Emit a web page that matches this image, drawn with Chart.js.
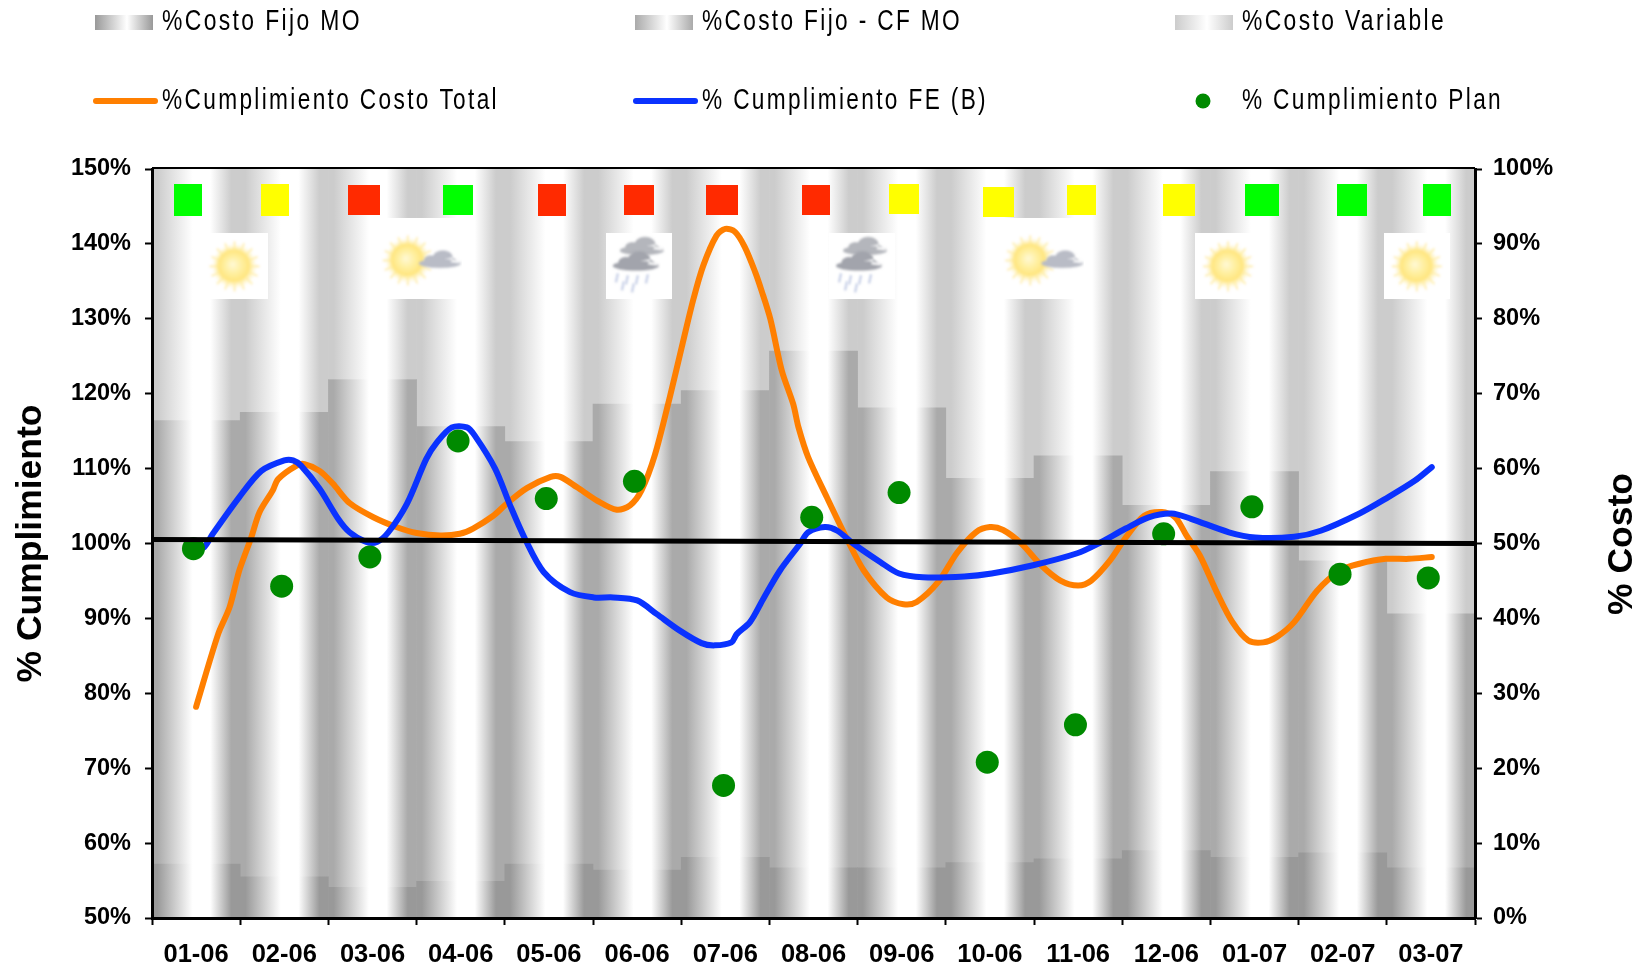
<!DOCTYPE html>
<html>
<head>
<meta charset="utf-8">
<script src="https://cdn.jsdelivr.net/npm/chart.js@4"></script>
<style>
  html, body { margin: 0; padding: 0; background: #fff; }
</style>
</head>
<body>
<canvas id="myChart" width="1648" height="972" style="display:block"></canvas>
<script>
const months = ['01-06','02-06','03-06','04-06','05-06','06-06','07-06','08-06','09-06','10-06','11-06','12-06','01-07','02-07','03-07'];

// stacked cost shares, % Costo
const costoFijoMO = [7.2,5.5,4.1,4.9,7.2,6.4,8.1,6.7,6.7,7.4,7.9,9.0,8.1,8.7,6.7];
const costoFijoCF = [59.2,62.0,67.8,60.7,56.4,62.2,62.3,69.0,61.4,51.3,53.8,46.1,51.5,39.0,33.9];
const costoVariable = [33.6,32.5,28.1,34.4,36.4,31.4,29.6,24.3,31.9,41.3,38.3,44.9,40.4,52.3,59.4];

// curves, x in months (0 = 01-06)
const costoX = [0,.25,.38,.49,.625,.72,.87,.93,1.14,1.23,1.4,1.55,1.74,2.01,2.27,2.5,2.77,2.99,3.14,3.37,3.52,3.75,4.02,4.13,4.32,4.55,4.77,4.92,5.05,5.2,5.37,5.52,5.64,5.75,5.9,6,6.11,6.22,6.34,6.41,6.51,6.64,6.77,6.83,6.94,7.15,7.38,7.57,7.83,8.02,8.17,8.41,8.63,8.84,9,9.15,9.36,9.58,9.8,10,10.15,10.36,10.54,10.75,10.95,11.1,11.23,11.38,11.58,11.75,11.93,12.1,12.25,12.45,12.71,12.97,13.19,13.49,13.75,14.01];
const cumplCosto = [78.2,87.9,91.5,96.4,100.8,104.2,107.1,108.6,110.4,110.6,109.7,108,105.4,103.5,102.2,101.4,101.07,101.3,102,103.7,105.3,107.4,108.9,108.9,107.5,105.7,104.5,105.1,107.1,111.75,119.5,126.9,132.7,137.1,141.1,142,141.6,139.6,136.2,133.8,130,123.1,118.6,115.5,111.5,106.2,100.6,96.4,92.8,91.9,92.2,94.8,98.8,101.5,102.2,101.8,99.95,97.1,95.05,94.4,95.05,97.7,100.8,103.7,104.2,103.5,101.05,98.4,93.3,89.5,87.05,86.8,87.5,89.5,93.7,96.4,97.3,97.95,97.95,98.2];
const feX = [0,.09,.19,.49,.74,1,1.1,1.19,1.4,1.61,1.74,1.93,2.05,2.18,2.39,2.61,2.73,2.9,3.07,3.16,3.39,3.56,3.73,3.94,4.24,4.51,4.73,5,5.22,5.48,5.73,5.88,6.07,6.13,6.28,6.43,6.62,6.85,6.94,7.13,7.27,7.45,7.76,7.97,8.24,8.71,9.02,9.49,9.99,10.23,10.54,10.8,11.06,11.28,11.71,12.01,12.45,12.75,13.19,13.49,13.82,14.01];
const cumplFE = [99.1,99.5,101.3,106.2,109.7,111.1,111.1,110.4,107.3,103.3,101.5,100.2,100.2,101.5,105.3,111.3,113.5,115.5,115.5,114.4,110,105.1,100.6,96.2,93.5,92.8,92.8,92.4,90.6,88.4,86.7,86.4,86.8,87.9,89.5,92.6,96.4,100,101.5,102.2,101.7,100,97.5,96,95.5,95.6,96,97.1,98.7,100,102,103.5,104,103.3,101.5,100.8,100.9,101.7,104,106,108.4,110.2];

const metaX = [-0.5,14.5];
const meta = [100.55,100];

const planX = [-0.03,0.97,1.97,2.97,3.97,4.97,5.98,6.98,7.97,8.97,9.97,10.97,11.97,12.97,13.97];
const cumplPlan = [99.3,94.3,98.2,113.7,106.0,108.3,67.7,103.5,106.8,70.8,75.8,101.3,104.9,95.9,95.4];

// semaforo and weather markers along the top of the plot
const semaforoX = [-0.097,0.90,1.90,2.97,4.03,5.02,5.96,7.03,8.03,9.10,10.04,11.14,12.09,13.11,14.07];
const semaforoY = [145.8,145.8,145.9,145.9,145.8,145.9,145.9,145.9,146,145.6,145.9,145.8,145.8,145.8,145.8];
const semaforo = ['g','y','r','g','r','r','r','r','y','y','y','y','g','g','g'];
const climaX = [0.436,2.553,5.02,7.55,9.61,11.70,13.84];
const climaY = [137,138,137,137,138,137,137];
const clima = ['sol','solnube','lluvia','lluvia','solnube','sol','sol'];

const semaforoColors = { g: '#00ff00', y: '#ffff00', r: '#ff2a00' };
const semaforoW = [28,28,32,30,28,30,32,28,30,31,29,32,34,30,28];
const semaforoH = [32,32,30,30,32,30,30,30,30,30,30,32,32,32,32];

function barGradient(context, edge) {
    const chart = context.chart;
    if (!chart.chartArea) return edge;
    const x = chart.scales.x;
    const half = (x.getPixelForValue(1) - x.getPixelForValue(0)) / 2;
    const c = x.getPixelForValue(context.dataIndex);
    const g = chart.ctx.createLinearGradient(c - half, 0, c + half, 0);
    g.addColorStop(0, edge);
    g.addColorStop(0.06, edge);
    g.addColorStop(0.46, '#ffffff');
    g.addColorStop(0.66, '#ffffff');
    g.addColorStop(0.9, edge);
    g.addColorStop(1, edge);
    return g;
}

function makeSquare(color, w, h) {
    const c = document.createElement('canvas');
    c.width = w; c.height = h;
    const g = c.getContext('2d');
    g.fillStyle = color;
    g.fillRect(0, 0, w, h);
    return c;
}

function makeIcon(kind) {
    const w = kind === 'solnube' ? 81 : 66;
    const h = kind === 'solnube' ? 81 : 66;
    const c = document.createElement('canvas');
    c.width = w; c.height = h;
    const g = c.getContext('2d');
    g.fillStyle = '#fff';
    g.fillRect(0, 0, w, h);
    g.filter = 'blur(1px)';
    const sun = (x, y) => {
        g.strokeStyle = 'rgba(255,230,130,0.55)';
        g.lineWidth = 2;
        for (let i = 0; i < 16; i++) {
            const a = i * Math.PI / 8;
            g.beginPath();
            g.moveTo(x + Math.cos(a) * 16, y + Math.sin(a) * 16);
            g.lineTo(x + Math.cos(a) * 25, y + Math.sin(a) * 25);
            g.stroke();
        }
        const r = g.createRadialGradient(x - 2, y - 2, 1, x, y, 23);
        r.addColorStop(0, '#fff8d0');
        r.addColorStop(0.35, '#fff0a0');
        r.addColorStop(0.65, '#ffe680');
        r.addColorStop(1, 'rgba(255,248,210,0)');
        g.fillStyle = r;
        g.beginPath(); g.arc(x, y, 23, 0, Math.PI * 2); g.fill();
    };
    const cloud = (x, y, col, s) => {
        g.fillStyle = col;
        g.beginPath();
        g.ellipse(x, y + 4 * s, 21 * s, 4.5 * s, 0, 0, Math.PI * 2);
        g.ellipse(x + 3 * s, y - 2 * s, 10 * s, 7 * s, 0, 0, Math.PI * 2);
        g.ellipse(x - 9 * s, y + 1 * s, 7 * s, 5 * s, 0, 0, Math.PI * 2);
        g.fill();
    };
    if (kind === 'sol') sun(33, 33);
    if (kind === 'solnube') { sun(27, 42); cloud(59, 41, '#b9bcc6', 1); }
    if (kind === 'lluvia') {
        cloud(36, 13, '#b4b6bc', 1.05);
        cloud(30, 28, '#a2a4ac', 1.1);
        g.strokeStyle = '#cdd5ea';
        g.lineWidth = 2.5;
        [[12,40],[22,42],[32,42],[42,41],[18,48],[28,50]].forEach(p => {
            g.beginPath(); g.moveTo(p[0], p[1]); g.lineTo(p[0] - 2, p[1] + 9); g.stroke();
        });
    }
    return c;
}

const xy = (xs, ys) => xs.map((x, i) => ({ x: x, y: ys[i] }));

// legend: three columns, two rows, swatch in front of the text
const legendPlugin = {
    id: 'cornerLegend',
    afterDraw(chart) {
        const ctx = chart.ctx;
        const items = [
            { text: '%Costo Fijo MO', x: 95, tx: 162, y: 22, w: 200, edge: '#999999' },
            { text: '%Costo Fijo - CF MO', x: 635, tx: 702, y: 22, w: 260, edge: '#aaaaaa' },
            { text: '%Costo Variable', x: 1175, tx: 1242, y: 22, w: 204, edge: '#cccccc' },
            { text: '%Cumplimiento Costo Total', x: 93, tx: 162, y: 101, w: 337, line: '#ff7f00' },
            { text: '% Cumplimiento FE (B)', x: 633, tx: 702, y: 101, w: 286, line: '#0a32ff' },
            { text: '% Cumplimiento Plan', x: 1174, tx: 1242, y: 101, w: 261, dot: '#008a00' }
        ];
        ctx.save();
        ctx.textBaseline = 'middle';
        items.forEach(it => {
            if (it.edge) {
                const g = ctx.createLinearGradient(it.x, 0, it.x + 58, 0);
                g.addColorStop(0, it.edge);
                g.addColorStop(0.55, '#ffffff');
                g.addColorStop(1, it.edge);
                ctx.fillStyle = g;
                ctx.fillRect(it.x, it.y - 7, 58, 15);
            } else if (it.line) {
                ctx.strokeStyle = it.line;
                ctx.lineWidth = 6;
                ctx.lineCap = 'round';
                ctx.beginPath();
                ctx.moveTo(it.x + 3, it.y);
                ctx.lineTo(it.x + 62, it.y);
                ctx.stroke();
            } else {
                ctx.fillStyle = it.dot;
                ctx.beginPath();
                ctx.arc(it.x + 29, it.y, 7.5, 0, Math.PI * 2);
                ctx.fill();
            }
            ctx.fillStyle = '#000';
            ctx.font = '29px "Liberation Sans"';
            ctx.letterSpacing = '3px';
            ctx.fillText(it.text, it.tx, it.y, it.w);
        });
        ctx.restore();
    }
};

// top frame line, and the right title which reads bottom-to-top (library turns it the other way)
const framePlugin = {
    id: 'frame',
    afterDraw(chart) {
        const ctx = chart.ctx;
        const a = chart.chartArea;
        ctx.save();
        ctx.strokeStyle = '#000';
        ctx.lineWidth = 2;
        ctx.beginPath();
        ctx.moveTo(a.left, a.top - 1);
        ctx.lineTo(a.right, a.top - 1);
        ctx.stroke();
        ctx.translate(1622, 544);
        ctx.rotate(-Math.PI / 2);
        ctx.font = 'bold 35.5px "Liberation Sans"';
        ctx.textAlign = 'center';
        ctx.textBaseline = 'middle';
        ctx.fillStyle = '#000';
        ctx.fillText('% Costo', 0, 0);
        ctx.restore();
    }
};

const yTickFont = { family: '"Liberation Sans"', size: 23.5, weight: 'bold' };
const xTickFont = { family: '"Liberation Sans"', size: 25.5, weight: 'bold' };

new Chart(document.getElementById('myChart').getContext('2d'), {
    data: {
        labels: months,
        datasets: [
            { type: 'line', label: 'Meta', data: xy(metaX, meta), xAxisID: 'xl', yAxisID: 'y', order: 1,
              borderColor: '#000', borderWidth: 5, pointRadius: 0 },
            { type: 'scatter', label: '% Cumplimiento Plan', data: xy(planX, cumplPlan), xAxisID: 'xl', yAxisID: 'y', order: 2,
              pointRadius: 11.5, borderWidth: 0, backgroundColor: '#008a00' },
            { type: 'line', label: '% Cumplimiento FE (B)', data: xy(feX, cumplFE), xAxisID: 'xl', yAxisID: 'y', order: 3,
              borderColor: '#0a32ff', borderWidth: 6, pointRadius: 0, tension: 0.3, borderCapStyle: 'round' },
            { type: 'line', label: '%Cumplimiento Costo Total', data: xy(costoX, cumplCosto), xAxisID: 'xl', yAxisID: 'y', order: 4,
              borderColor: '#ff7f00', borderWidth: 6, pointRadius: 0, tension: 0.3, borderCapStyle: 'round' },
            { type: 'scatter', label: 'Semaforo', data: xy(semaforoX, semaforoY), xAxisID: 'xl', yAxisID: 'y', order: 5,
              pointStyle: semaforo.map((s, i) => makeSquare(semaforoColors[s], semaforoW[i], semaforoH[i])) },
            { type: 'scatter', label: 'Clima', data: xy(climaX, climaY), xAxisID: 'xl', yAxisID: 'y', order: 6,
              pointStyle: clima.map(makeIcon) },
            { type: 'bar', label: '%Costo Fijo MO', data: costoFijoMO, yAxisID: 'y1', order: 10,
              backgroundColor: c => barGradient(c, '#999999') },
            { type: 'bar', label: '%Costo Fijo - CF MO', data: costoFijoCF, yAxisID: 'y1', order: 10,
              backgroundColor: c => barGradient(c, '#aaaaaa') },
            { type: 'bar', label: '%Costo Variable', data: costoVariable, yAxisID: 'y1', order: 10,
              backgroundColor: c => barGradient(c, '#cccccc') }
        ]
    },
    options: {
        responsive: false,
        animation: false,
        layout: { padding: { top: 169 } },
        datasets: { bar: { categoryPercentage: 1, barPercentage: 1, borderWidth: 0, grouped: false } },
        plugins: { legend: { display: false }, tooltip: { enabled: false }, title: { display: false } },
        scales: {
            x: {
                type: 'category', stacked: true, offset: true,
                afterFit: s => { s.height = 54; },
                border: { color: '#000', width: 3, z: 2 },
                grid: { display: true, offset: true, drawOnChartArea: false, tickColor: '#000', tickLength: 7, tickWidth: 2 },
                ticks: { color: '#000', font: xTickFont, padding: 15, maxRotation: 0, autoSkip: false }
            },
            xl: { type: 'linear', display: false, min: -0.5, max: 14.5 },
            y: {
                position: 'left', min: 50, max: 150,
                afterFit: s => { s.width = 152; },
                border: { color: '#000', width: 3, z: 2 },
                grid: { display: true, drawOnChartArea: false, tickColor: '#000', tickLength: 7, tickWidth: 2 },
                ticks: { color: '#000', font: yTickFont, stepSize: 10, padding: 14, callback: v => v + '%' },
                title: { display: true, text: '% Cumplimiento', color: '#000', font: { family: '"Liberation Sans"', size: 35.5, weight: 'bold' }, padding: { top: 10, bottom: 0 } }
            },
            y1: {
                position: 'right', stacked: true, min: 0, max: 100,
                afterFit: s => { s.width = 173; },
                border: { color: '#000', width: 3, z: 2 },
                grid: { display: true, drawOnChartArea: false, tickColor: '#000', tickLength: 7, tickWidth: 2 },
                ticks: { color: '#000', font: yTickFont, stepSize: 10, padding: 11, callback: v => v + '%' }
            }
        }
    },
    plugins: [legendPlugin, framePlugin]
});
</script>
</body>
</html>
